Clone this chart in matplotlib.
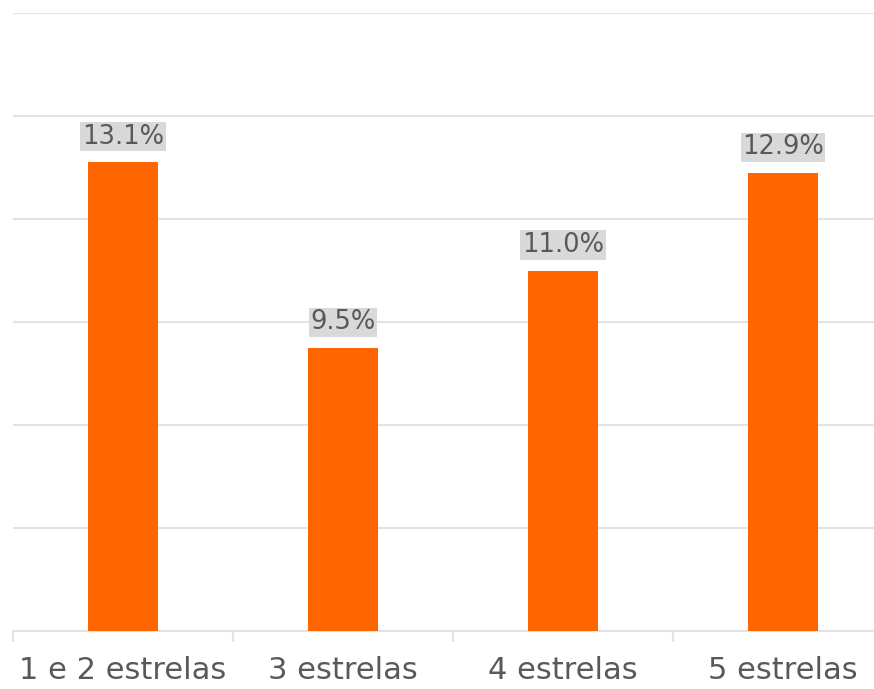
import matplotlib.pyplot as plt
import numpy as np

categorias = ['1 e 2 estrelas', '3 estrelas', '4 estrelas', '5 estrelas']
valores = [13.1, 9.5, 11.0, 12.9]
rotulos = ['13.1%', '9.5%', '11.0%', '12.9%']

laranja = '#FF6600'
cinza_texto = '#595959'
cinza_grade = '#E3E3E3'

fig = plt.figure(figsize=(8.74, 6.89), dpi=100)
# area do grafico estende alem da borda direita (recorte original)
ax = fig.add_axes([13/874, 58/689, 880/874, 618/689])

x = np.arange(len(categorias))
barras = ax.bar(x, valores, width=0.32, color=laranja, zorder=3)

ax.set_ylim(4, 16)
ax.set_xlim(-0.5, len(categorias) - 0.5)
ax.set_yticks(np.arange(4, 17, 2))
ax.yaxis.grid(True, color=cinza_grade, linewidth=1.5, zorder=0)
ax.tick_params(axis='y', length=0, labelleft=False)

ax.set_xticks(x)
ax.set_xticklabels(categorias, fontsize=22, color=cinza_texto)
ax.tick_params(axis='x', which='major', length=0, pad=18)
ax.set_xticks(np.arange(-0.5, len(categorias), 1), minor=True)
ax.tick_params(axis='x', which='minor', length=8, width=1.5, color=cinza_grade)

for lado in ['top', 'right', 'left']:
    ax.spines[lado].set_visible(False)
ax.spines['bottom'].set_color(cinza_grade)
ax.spines['bottom'].set_linewidth(1.5)

for b, r in zip(barras, rotulos):
    ax.annotate(r, (b.get_x() + b.get_width() / 2, b.get_height()),
                xytext=(0, 9), textcoords='offset points',
                ha='center', va='bottom', fontsize=18.5, color=cinza_texto,
                bbox=dict(boxstyle='square,pad=0.06', facecolor='#D9D9D9', edgecolor='none'))

fig.savefig('out.png', dpi=100)
